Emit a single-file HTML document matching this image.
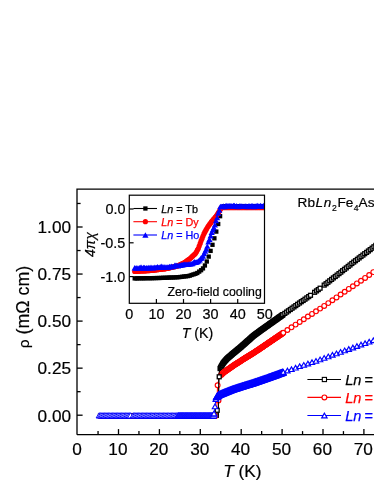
<!DOCTYPE html>
<html lang="en"><head><meta charset="utf-8"><title>RbLn2Fe4As2O2 resistivity</title>
<style>html,body{margin:0;padding:0;background:#fff;}body{width:374px;height:484px;overflow:hidden;}</style>
</head><body>
<svg width="374" height="484" viewBox="0 0 374 484" style="display:block">
<rect x="0" y="0" width="374" height="484" fill="#fff"/>
<defs>
<rect id="os" x="-1.95" y="-1.95" width="3.9" height="3.9" fill="#fff" stroke="#000" stroke-width="1.3"/>
<circle id="oc" r="2.4" fill="#fff" stroke="#f00" stroke-width="1.15"/>
<polygon id="ot" points="0,-2.34 -2.70,2.34 2.70,2.34" fill="#fff" stroke="#00f" stroke-width="1.15"/>
<rect id="fs" x="-2.15" y="-2.15" width="4.3" height="4.3" fill="#000"/>
<circle id="fc" r="2.6" fill="#f00"/>
<polygon id="ft" points="0,-2.68 -3.10,2.68 3.10,2.68" fill="#00f"/>
<rect id="os2" x="-1.7" y="-1.7" width="3.4" height="3.4" fill="#fff" stroke="#000" stroke-width="1.1"/>
<circle id="oc2" r="2.0" fill="#fff" stroke="#f00" stroke-width="1.1"/>
<polygon id="ot2" points="0,-2.5 -3.2,2.8 3.2,2.8" fill="#fff" stroke="#00f" stroke-width="0.95"/>
<polygon id="ot3" points="0,-2.8 -3.2,2.7 3.2,2.7" fill="#fff" stroke="#00f" stroke-width="1.25"/>
<rect id="osl" x="-2.1" y="-2.1" width="4.2" height="4.2" fill="#fff" stroke="#000" stroke-width="1.1"/>
</defs>
<g id="main-data">
<polyline points="98.0,415.2 98.9,415.2 99.7,415.2 100.5,415.2 101.3,415.2 102.1,415.2 103.0,415.2 103.8,415.2 104.6,415.2 105.4,415.2 106.2,415.2 107.0,415.2 107.9,415.2 108.7,415.2 109.5,415.2 110.3,415.2 111.1,415.2 112.0,415.2 112.8,415.2 113.6,415.2 114.4,415.2 115.2,415.2 116.0,415.2 116.9,415.2 117.7,415.2 118.5,415.2 119.3,415.2 120.1,415.2 121.0,415.2 121.8,415.2 122.6,415.2 123.4,415.2 124.2,415.2 125.0,415.2 125.9,415.2 126.7,415.2 127.5,415.2 128.3,415.2 129.1,415.2 130.0,415.2 130.8,415.2 131.6,415.2 132.4,415.2 133.2,415.2 134.0,415.2 134.9,415.2 135.7,415.2 136.5,415.2 137.3,415.2 138.1,415.2 139.0,415.2 139.8,415.2 140.6,415.2 141.4,415.2 142.2,415.2 143.0,415.2 143.9,415.2 144.7,415.2 145.5,415.2 146.3,415.2 147.1,415.2 147.9,415.2 148.8,415.2 149.6,415.2 150.4,415.2 151.2,415.2 152.0,415.2 152.9,415.2 153.7,415.2 154.5,415.2 155.3,415.2 156.1,415.2 156.9,415.2 157.8,415.2 158.6,415.2 159.4,415.2 160.2,415.2 161.0,415.2 161.9,415.2 162.7,415.2 163.5,415.2 164.3,415.2 165.1,415.2 165.9,415.2 166.8,415.2 167.6,415.2 168.4,415.2 169.2,415.2 170.0,415.2 170.9,415.2 171.7,415.2 172.5,415.2 173.3,415.2 174.1,415.2 174.9,415.2 175.8,415.2 176.6,415.2 177.4,415.2 178.2,415.2 179.0,415.2 179.9,415.2 180.7,415.2 181.5,415.2 182.3,415.2 183.1,415.2 183.9,415.2 184.8,415.2 185.6,415.2 186.4,415.2 187.2,415.2 188.0,415.2 188.8,415.2 189.7,415.2 190.5,415.2 191.3,415.2 192.1,415.2 192.9,415.2 193.8,415.2 194.6,415.2 195.4,415.2 196.2,415.2 197.0,415.2 197.8,415.2 198.7,415.2 199.5,415.2 200.3,415.2 201.1,415.2 201.9,415.2 202.8,415.2 203.6,415.2 204.4,415.2 205.2,415.2 206.0,415.2 206.8,415.2 207.7,415.2 208.5,415.2 209.3,415.2 210.1,415.2 210.9,415.2 211.8,415.2 212.6,415.2 213.4,415.2 214.2,415.2 215.0,415.2 215.8,415.2 216.7,415.2 217.5,415.2 218.3,415.2 219.1,373.5 219.9,369.1 220.8,367.2 221.6,365.8 222.4,364.4 223.2,363.1 224.0,362.1 224.8,361.1 225.7,360.2 226.5,359.2 227.3,358.4 228.1,357.7 228.9,357.0 229.7,356.3 230.6,355.6 231.4,354.9 232.2,354.2 233.0,353.5 233.8,352.8 234.7,352.1 235.5,351.4 236.3,350.8 237.1,350.1 237.9,349.4 238.7,348.7 239.6,348.1 240.4,347.4 241.2,346.7 242.0,346.0 242.8,345.2 243.7,344.5 244.5,343.8 245.3,343.1 246.1,342.3 246.9,341.6 247.7,340.9 248.6,340.1 249.4,339.4 250.2,338.7 251.0,338.0 251.8,337.2 252.7,336.5 253.5,335.8 254.3,335.1 255.1,334.5 255.9,333.9 256.7,333.3 257.6,332.7 258.4,332.1 259.2,331.5 260.0,330.9 260.8,330.4 261.7,329.8 262.5,329.2 263.3,328.6 264.1,328.0 264.9,327.4 265.7,326.9 266.6,326.3 267.4,325.7 268.2,325.1 269.0,324.5 269.8,324.0 270.6,323.4 271.5,322.8 272.3,322.2 273.1,321.6 273.9,321.1 274.7,320.5 275.6,319.9 276.4,319.3 277.2,318.7 278.0,318.2 278.8,317.6 279.6,317.0 280.5,316.4 281.3,315.8 282.1,315.3 282.9,314.7 283.7,314.1 284.6,313.5 285.4,313.0 286.2,312.4 287.0,311.8 287.8,311.2 288.6,310.7 289.5,310.1 290.3,309.5 291.1,308.9 291.9,308.4 292.7,307.8 293.6,307.2 294.4,306.6 295.2,306.1 296.0,305.5 296.8,304.9 297.6,304.3 298.5,303.8 299.3,303.2 300.1,302.6 300.9,302.0 301.7,301.5 302.6,300.9 303.4,300.3 304.2,299.7 305.0,299.2 305.8,298.6 306.6,298.0 307.5,297.4 308.3,296.9 309.1,296.3 309.9,295.7 310.7,295.1 311.5,294.5 312.4,293.9 313.2,293.3 314.0,292.7 314.8,292.1 315.6,291.5 316.5,290.9 317.3,290.3 318.1,289.7 318.9,289.1 319.7,288.5 320.5,287.9 321.4,287.3 322.2,286.7 323.0,286.1 323.8,285.5 324.6,284.8 325.5,284.2 326.3,283.5 327.1,282.9 327.9,282.3 328.7,281.6 329.5,281.0 330.4,280.3 331.2,279.7 332.0,279.1 332.8,278.4 333.6,277.8 334.5,277.1 335.3,276.5 336.1,275.9 336.9,275.2 337.7,274.6 338.5,273.9 339.4,273.3 340.2,272.7 341.0,272.0 341.8,271.4 342.6,270.7 343.5,270.1 344.3,269.5 345.1,268.8 345.9,268.2 346.7,267.5 347.5,266.9 348.4,266.3 349.2,265.6 350.0,265.0 350.8,264.3 351.6,263.7 352.4,263.1 353.3,262.4 354.1,261.8 354.9,261.1 355.7,260.5 356.5,259.9 357.4,259.3 358.2,258.7 359.0,258.0 359.8,257.4 360.6,256.8 361.4,256.2 362.3,255.6 363.1,255.0 363.9,254.4 364.7,253.7 365.5,253.1 366.4,252.5 367.2,251.9 368.0,251.3 368.8,250.7 369.6,250.0 370.4,249.4 371.3,248.8 372.1,248.2 372.9,247.6 373.7,247.0 374.5,246.4 375.4,245.7 376.2,245.1 377.0,244.5 377.8,243.9" fill="none" stroke="#000" stroke-width="1" stroke-linejoin="round"/>
<use href="#os2" x="100.1" y="415.7"/>
<use href="#os2" x="101.3" y="415.7"/>
<use href="#os2" x="102.5" y="415.7"/>
<use href="#os2" x="103.8" y="415.7"/>
<use href="#os2" x="105.0" y="415.7"/>
<use href="#os2" x="106.2" y="415.7"/>
<use href="#os2" x="107.5" y="415.7"/>
<use href="#os2" x="108.7" y="415.7"/>
<use href="#os2" x="109.9" y="415.7"/>
<use href="#os2" x="111.1" y="415.7"/>
<use href="#os2" x="112.4" y="415.7"/>
<use href="#os2" x="113.6" y="415.7"/>
<use href="#os2" x="114.8" y="415.7"/>
<use href="#os2" x="116.0" y="415.7"/>
<use href="#os2" x="117.3" y="415.7"/>
<use href="#os2" x="118.5" y="415.7"/>
<use href="#os2" x="119.7" y="415.7"/>
<use href="#os2" x="121.0" y="415.7"/>
<use href="#os2" x="122.2" y="415.7"/>
<use href="#os2" x="123.4" y="415.7"/>
<use href="#os2" x="124.6" y="415.7"/>
<use href="#os2" x="125.9" y="415.7"/>
<use href="#os2" x="127.1" y="415.7"/>
<use href="#os2" x="128.3" y="415.7"/>
<use href="#os2" x="129.5" y="415.7"/>
<use href="#os2" x="130.8" y="415.7"/>
<use href="#os2" x="132.0" y="415.7"/>
<use href="#os2" x="133.2" y="415.7"/>
<use href="#os2" x="134.5" y="415.7"/>
<use href="#os2" x="135.7" y="415.7"/>
<use href="#os2" x="136.9" y="415.7"/>
<use href="#os2" x="138.1" y="415.7"/>
<use href="#os2" x="139.4" y="415.7"/>
<use href="#os2" x="140.6" y="415.7"/>
<use href="#os2" x="141.8" y="415.7"/>
<use href="#os2" x="143.0" y="415.7"/>
<use href="#os2" x="144.3" y="415.7"/>
<use href="#os2" x="145.5" y="415.7"/>
<use href="#os2" x="146.7" y="415.7"/>
<use href="#os2" x="147.9" y="415.7"/>
<use href="#os2" x="149.2" y="415.7"/>
<use href="#os2" x="150.4" y="415.7"/>
<use href="#os2" x="151.6" y="415.7"/>
<use href="#os2" x="152.9" y="415.7"/>
<use href="#os2" x="154.1" y="415.7"/>
<use href="#os2" x="155.3" y="415.7"/>
<use href="#os2" x="156.5" y="415.7"/>
<use href="#os2" x="157.8" y="415.7"/>
<use href="#os2" x="159.0" y="415.7"/>
<use href="#os2" x="160.2" y="415.7"/>
<use href="#os2" x="161.4" y="415.7"/>
<use href="#os2" x="162.7" y="415.7"/>
<use href="#os2" x="163.9" y="415.7"/>
<use href="#os2" x="165.1" y="415.7"/>
<use href="#os2" x="166.4" y="415.7"/>
<use href="#os2" x="167.6" y="415.7"/>
<use href="#os2" x="168.8" y="415.7"/>
<use href="#os2" x="170.0" y="415.7"/>
<use href="#os2" x="171.3" y="415.7"/>
<use href="#os2" x="172.5" y="415.7"/>
<use href="#os2" x="173.7" y="415.7"/>
<use href="#os2" x="174.9" y="415.7"/>
<use href="#os2" x="176.2" y="415.7"/>
<use href="#os2" x="177.4" y="415.7"/>
<use href="#os2" x="178.6" y="415.7"/>
<use href="#os2" x="179.8" y="415.7"/>
<use href="#os2" x="181.1" y="415.7"/>
<use href="#os2" x="182.3" y="415.7"/>
<use href="#os2" x="183.5" y="415.7"/>
<use href="#os2" x="184.8" y="415.7"/>
<use href="#os2" x="186.0" y="415.7"/>
<use href="#os2" x="187.2" y="415.7"/>
<use href="#os2" x="188.4" y="415.7"/>
<use href="#os2" x="189.7" y="415.7"/>
<use href="#os2" x="190.9" y="415.7"/>
<use href="#os2" x="192.1" y="415.7"/>
<use href="#os2" x="193.3" y="415.7"/>
<use href="#os2" x="194.6" y="415.7"/>
<use href="#os2" x="195.8" y="415.7"/>
<use href="#os2" x="197.0" y="415.7"/>
<use href="#os2" x="198.3" y="415.7"/>
<use href="#os2" x="199.5" y="415.7"/>
<use href="#os2" x="200.7" y="415.7"/>
<use href="#os2" x="201.9" y="415.7"/>
<use href="#os2" x="203.2" y="415.7"/>
<use href="#os2" x="204.4" y="415.7"/>
<use href="#os2" x="205.6" y="415.7"/>
<use href="#os2" x="206.8" y="415.7"/>
<use href="#os2" x="208.1" y="415.7"/>
<use href="#os2" x="209.3" y="415.7"/>
<use href="#os2" x="210.5" y="415.7"/>
<use href="#os2" x="211.8" y="415.7"/>
<use href="#os2" x="213.0" y="415.7"/>
<use href="#os2" x="214.2" y="415.7"/>
<use href="#os2" x="215.4" y="415.7"/>
<use href="#os2" x="216.7" y="415.7"/>
<use href="#os" x="220.1" y="368.6"/>
<use href="#os" x="220.5" y="367.7"/>
<use href="#os" x="221.0" y="366.9"/>
<use href="#os" x="221.4" y="366.2"/>
<use href="#os" x="221.8" y="365.5"/>
<use href="#os" x="222.2" y="364.8"/>
<use href="#os" x="222.6" y="364.1"/>
<use href="#os" x="223.0" y="363.4"/>
<use href="#os" x="223.4" y="362.8"/>
<use href="#os" x="223.8" y="362.3"/>
<use href="#os" x="224.2" y="361.9"/>
<use href="#os" x="224.6" y="361.4"/>
<use href="#os" x="225.0" y="360.9"/>
<use href="#os" x="225.5" y="360.4"/>
<use href="#os" x="225.9" y="359.9"/>
<use href="#os" x="226.3" y="359.5"/>
<use href="#os" x="226.7" y="359.0"/>
<use href="#os" x="227.1" y="358.6"/>
<use href="#os" x="227.5" y="358.2"/>
<use href="#os" x="227.9" y="357.9"/>
<use href="#os" x="228.3" y="357.5"/>
<use href="#os" x="228.7" y="357.2"/>
<use href="#os" x="229.1" y="356.8"/>
<use href="#os" x="229.5" y="356.5"/>
<use href="#os" x="230.0" y="356.1"/>
<use href="#os" x="230.4" y="355.8"/>
<use href="#os" x="230.8" y="355.4"/>
<use href="#os" x="231.2" y="355.1"/>
<use href="#os" x="231.6" y="354.7"/>
<use href="#os" x="232.0" y="354.3"/>
<use href="#os" x="232.4" y="354.0"/>
<use href="#os" x="232.8" y="353.6"/>
<use href="#os" x="233.2" y="353.3"/>
<use href="#os" x="233.6" y="353.0"/>
<use href="#os" x="234.0" y="352.6"/>
<use href="#os" x="234.5" y="352.3"/>
<use href="#os" x="234.9" y="351.9"/>
<use href="#os" x="235.3" y="351.6"/>
<use href="#os" x="235.7" y="351.3"/>
<use href="#os" x="236.1" y="350.9"/>
<use href="#os" x="236.5" y="350.6"/>
<use href="#os" x="236.9" y="350.3"/>
<use href="#os" x="237.3" y="349.9"/>
<use href="#os" x="237.7" y="349.6"/>
<use href="#os" x="238.1" y="349.2"/>
<use href="#os" x="238.5" y="348.9"/>
<use href="#os" x="239.0" y="348.6"/>
<use href="#os" x="239.4" y="348.2"/>
<use href="#os" x="239.8" y="347.9"/>
<use href="#os" x="240.2" y="347.5"/>
<use href="#os" x="240.6" y="347.2"/>
<use href="#os" x="241.0" y="346.9"/>
<use href="#os" x="241.4" y="346.5"/>
<use href="#os" x="241.8" y="346.1"/>
<use href="#os" x="242.2" y="345.8"/>
<use href="#os" x="242.6" y="345.4"/>
<use href="#os" x="243.0" y="345.1"/>
<use href="#os" x="243.4" y="344.7"/>
<use href="#os" x="243.9" y="344.3"/>
<use href="#os" x="244.3" y="344.0"/>
<use href="#os" x="244.7" y="343.6"/>
<use href="#os" x="245.1" y="343.2"/>
<use href="#os" x="245.5" y="342.9"/>
<use href="#os" x="245.9" y="342.5"/>
<use href="#os" x="246.3" y="342.1"/>
<use href="#os" x="246.7" y="341.8"/>
<use href="#os" x="247.1" y="341.4"/>
<use href="#os" x="247.5" y="341.0"/>
<use href="#os" x="247.9" y="340.7"/>
<use href="#os" x="248.4" y="340.3"/>
<use href="#os" x="248.8" y="340.0"/>
<use href="#os" x="249.2" y="339.6"/>
<use href="#os" x="249.6" y="339.2"/>
<use href="#os" x="250.0" y="338.9"/>
<use href="#os" x="250.4" y="338.5"/>
<use href="#os" x="250.8" y="338.1"/>
<use href="#os" x="251.2" y="337.8"/>
<use href="#os" x="251.6" y="337.4"/>
<use href="#os" x="252.0" y="337.0"/>
<use href="#os" x="252.4" y="336.7"/>
<use href="#os" x="252.9" y="336.3"/>
<use href="#os" x="253.3" y="335.9"/>
<use href="#os" x="253.7" y="335.6"/>
<use href="#os" x="254.1" y="335.3"/>
<use href="#os" x="254.5" y="335.0"/>
<use href="#os" x="254.9" y="334.7"/>
<use href="#os" x="255.3" y="334.4"/>
<use href="#os" x="255.7" y="334.1"/>
<use href="#os" x="256.1" y="333.8"/>
<use href="#os" x="256.5" y="333.5"/>
<use href="#os" x="256.9" y="333.2"/>
<use href="#os" x="257.4" y="332.9"/>
<use href="#os" x="257.8" y="332.6"/>
<use href="#os" x="258.2" y="332.3"/>
<use href="#os" x="258.6" y="332.0"/>
<use href="#os" x="259.0" y="331.7"/>
<use href="#os" x="259.4" y="331.4"/>
<use href="#os" x="259.8" y="331.1"/>
<use href="#os" x="260.2" y="330.8"/>
<use href="#os" x="260.6" y="330.5"/>
<use href="#os" x="261.0" y="330.2"/>
<use href="#os" x="261.4" y="329.9"/>
<use href="#os" x="261.9" y="329.6"/>
<use href="#os" x="262.3" y="329.3"/>
<use href="#os" x="262.7" y="329.0"/>
<use href="#os" x="263.1" y="328.7"/>
<use href="#os" x="263.5" y="328.5"/>
<use href="#os" x="263.9" y="328.2"/>
<use href="#os" x="264.3" y="327.9"/>
<use href="#os" x="264.7" y="327.6"/>
<use href="#os" x="265.1" y="327.3"/>
<use href="#os" x="265.5" y="327.0"/>
<use href="#os" x="265.9" y="326.7"/>
<use href="#os" x="266.4" y="326.4"/>
<use href="#os" x="266.8" y="326.1"/>
<use href="#os" x="267.2" y="325.8"/>
<use href="#os" x="267.6" y="325.6"/>
<use href="#os" x="268.0" y="325.3"/>
<use href="#os" x="268.4" y="325.0"/>
<use href="#os" x="268.8" y="324.7"/>
<use href="#os" x="269.2" y="324.4"/>
<use href="#os" x="269.6" y="324.1"/>
<use href="#os" x="270.0" y="323.8"/>
<use href="#os" x="270.4" y="323.5"/>
<use href="#os" x="270.9" y="323.2"/>
<use href="#os" x="271.3" y="322.9"/>
<use href="#os" x="271.7" y="322.7"/>
<use href="#os" x="272.1" y="322.4"/>
<use href="#os" x="272.5" y="322.1"/>
<use href="#os" x="272.9" y="321.8"/>
<use href="#os" x="273.3" y="321.5"/>
<use href="#os" x="273.7" y="321.2"/>
<use href="#os" x="274.1" y="320.9"/>
<use href="#os" x="274.5" y="320.6"/>
<use href="#os" x="274.9" y="320.3"/>
<use href="#os" x="275.4" y="320.0"/>
<use href="#os" x="275.8" y="319.8"/>
<use href="#os" x="276.2" y="319.5"/>
<use href="#os" x="276.6" y="319.2"/>
<use href="#os" x="277.0" y="318.9"/>
<use href="#os" x="277.4" y="318.6"/>
<use href="#os" x="277.8" y="318.3"/>
<use href="#os" x="278.2" y="318.0"/>
<use href="#os" x="278.6" y="317.7"/>
<use href="#os" x="279.0" y="317.4"/>
<use href="#os" x="279.4" y="317.1"/>
<use href="#os" x="279.9" y="316.9"/>
<use href="#os" x="280.3" y="316.6"/>
<use href="#os" x="280.7" y="316.3"/>
<use href="#os" x="281.1" y="316.0"/>
<use href="#os" x="281.5" y="315.7"/>
<use href="#os" x="281.9" y="315.4"/>
<use href="#os" x="282.3" y="315.1"/>
<use href="#os" x="282.7" y="314.8"/>
<use href="#os" x="282.9" y="314.7"/>
<use href="#os" x="284.8" y="313.4"/>
<use href="#os" x="286.6" y="312.1"/>
<use href="#os" x="288.4" y="310.8"/>
<use href="#os" x="290.3" y="309.5"/>
<use href="#os" x="292.1" y="308.2"/>
<use href="#os" x="294.0" y="306.9"/>
<use href="#os" x="295.8" y="305.6"/>
<use href="#os" x="297.6" y="304.3"/>
<use href="#os" x="299.5" y="303.0"/>
<use href="#os" x="301.3" y="301.7"/>
<use href="#os" x="303.2" y="300.5"/>
<use href="#os" x="305.0" y="299.2"/>
<use href="#os" x="306.8" y="297.9"/>
<use href="#os" x="308.7" y="296.6"/>
<use href="#os" x="310.5" y="295.3"/>
<use href="#os" x="314.6" y="292.3"/>
<use href="#os" x="316.5" y="290.9"/>
<use href="#os" x="318.3" y="289.6"/>
<use href="#os" x="320.1" y="288.2"/>
<use href="#os" x="324.2" y="285.1"/>
<use href="#os" x="326.1" y="283.7"/>
<use href="#os" x="327.9" y="282.3"/>
<use href="#os" x="329.7" y="280.8"/>
<use href="#os" x="331.6" y="279.4"/>
<use href="#os" x="333.4" y="277.9"/>
<use href="#os" x="335.3" y="276.5"/>
<use href="#os" x="337.1" y="275.1"/>
<use href="#os" x="339.0" y="273.6"/>
<use href="#os" x="340.8" y="272.2"/>
<use href="#os" x="342.6" y="270.7"/>
<use href="#os" x="344.5" y="269.3"/>
<use href="#os" x="346.3" y="267.9"/>
<use href="#os" x="348.2" y="266.4"/>
<use href="#os" x="350.0" y="265.0"/>
<use href="#os" x="351.8" y="263.5"/>
<use href="#os" x="353.7" y="262.1"/>
<use href="#os" x="355.5" y="260.7"/>
<use href="#os" x="357.4" y="259.3"/>
<use href="#os" x="359.2" y="257.9"/>
<use href="#os" x="361.0" y="256.5"/>
<use href="#os" x="362.9" y="255.1"/>
<use href="#os" x="364.7" y="253.7"/>
<use href="#os" x="366.6" y="252.4"/>
<use href="#os" x="368.4" y="251.0"/>
<use href="#os" x="370.2" y="249.6"/>
<use href="#os" x="372.1" y="248.2"/>
<use href="#os" x="373.9" y="246.8"/>
<use href="#os" x="375.8" y="245.4"/>
<use href="#os" x="377.6" y="244.1"/>
<use href="#os" x="379.4" y="242.7"/>
<use href="#os" x="381.3" y="242.1"/>
<polyline points="98.0,415.2 98.9,415.2 99.7,415.2 100.5,415.2 101.3,415.2 102.1,415.2 103.0,415.2 103.8,415.2 104.6,415.2 105.4,415.2 106.2,415.2 107.0,415.2 107.9,415.2 108.7,415.2 109.5,415.2 110.3,415.2 111.1,415.2 112.0,415.2 112.8,415.2 113.6,415.2 114.4,415.2 115.2,415.2 116.0,415.2 116.9,415.2 117.7,415.2 118.5,415.2 119.3,415.2 120.1,415.2 121.0,415.2 121.8,415.2 122.6,415.2 123.4,415.2 124.2,415.2 125.0,415.2 125.9,415.2 126.7,415.2 127.5,415.2 128.3,415.2 129.1,415.2 130.0,415.2 130.8,415.2 131.6,415.2 132.4,415.2 133.2,415.2 134.0,415.2 134.9,415.2 135.7,415.2 136.5,415.2 137.3,415.2 138.1,415.2 139.0,415.2 139.8,415.2 140.6,415.2 141.4,415.2 142.2,415.2 143.0,415.2 143.9,415.2 144.7,415.2 145.5,415.2 146.3,415.2 147.1,415.2 147.9,415.2 148.8,415.2 149.6,415.2 150.4,415.2 151.2,415.2 152.0,415.2 152.9,415.2 153.7,415.2 154.5,415.2 155.3,415.2 156.1,415.2 156.9,415.2 157.8,415.2 158.6,415.2 159.4,415.2 160.2,415.2 161.0,415.2 161.9,415.2 162.7,415.2 163.5,415.2 164.3,415.2 165.1,415.2 165.9,415.2 166.8,415.2 167.6,415.2 168.4,415.2 169.2,415.2 170.0,415.2 170.9,415.2 171.7,415.2 172.5,415.2 173.3,415.2 174.1,415.2 174.9,415.2 175.8,415.2 176.6,415.2 177.4,415.2 178.2,415.2 179.0,415.2 179.9,415.2 180.7,415.2 181.5,415.2 182.3,415.2 183.1,415.2 183.9,415.2 184.8,415.2 185.6,415.2 186.4,415.2 187.2,415.2 188.0,415.2 188.8,415.2 189.7,415.2 190.5,415.2 191.3,415.2 192.1,415.2 192.9,415.2 193.8,415.2 194.6,415.2 195.4,415.2 196.2,415.2 197.0,415.2 197.8,415.2 198.7,415.2 199.5,415.2 200.3,415.2 201.1,415.2 201.9,415.2 202.8,415.2 203.6,415.2 204.4,415.2 205.2,415.2 206.0,415.2 206.8,415.2 207.7,415.2 208.5,415.2 209.3,415.2 210.1,415.2 210.9,415.2 211.8,415.2 212.6,415.2 213.4,415.2 214.2,415.2 215.0,415.2 215.8,415.2 216.7,415.2 217.5,385.1 218.3,381.5 219.1,377.9 219.9,376.7 220.8,375.5 221.6,374.5 222.4,373.7 223.2,372.9 224.0,372.2 224.8,371.6 225.7,371.1 226.5,370.5 227.3,369.9 228.1,369.3 228.9,368.8 229.7,368.2 230.6,367.6 231.4,367.1 232.2,366.5 233.0,365.9 233.8,365.3 234.7,364.8 235.5,364.2 236.3,363.7 237.1,363.2 237.9,362.7 238.7,362.1 239.6,361.6 240.4,361.1 241.2,360.6 242.0,360.1 242.8,359.6 243.7,359.1 244.5,358.5 245.3,358.0 246.1,357.5 246.9,357.0 247.7,356.5 248.6,356.0 249.4,355.5 250.2,354.9 251.0,354.4 251.8,353.9 252.7,353.4 253.5,352.9 254.3,352.4 255.1,351.9 255.9,351.3 256.7,350.8 257.6,350.3 258.4,349.7 259.2,349.2 260.0,348.6 260.8,348.1 261.7,347.5 262.5,346.9 263.3,346.4 264.1,345.8 264.9,345.3 265.7,344.7 266.6,344.2 267.4,343.6 268.2,343.1 269.0,342.5 269.8,341.9 270.6,341.4 271.5,340.8 272.3,340.3 273.1,339.7 273.9,339.2 274.7,338.6 275.6,338.0 276.4,337.5 277.2,336.9 278.0,336.4 278.8,335.8 279.6,335.3 280.5,334.7 281.3,334.2 282.1,333.6 282.9,333.0 283.7,332.5 284.6,332.0 285.4,331.4 286.2,330.9 287.0,330.3 287.8,329.8 288.6,329.2 289.5,328.7 290.3,328.1 291.1,327.6 291.9,327.1 292.7,326.5 293.6,326.0 294.4,325.4 295.2,324.9 296.0,324.3 296.8,323.8 297.6,323.2 298.5,322.7 299.3,322.1 300.1,321.6 300.9,321.1 301.7,320.5 302.6,320.0 303.4,319.4 304.2,318.9 305.0,318.4 305.8,317.9 306.6,317.3 307.5,316.8 308.3,316.3 309.1,315.8 309.9,315.2 310.7,314.7 311.5,314.2 312.4,313.6 313.2,313.1 314.0,312.6 314.8,312.1 315.6,311.5 316.5,311.0 317.3,310.5 318.1,310.0 318.9,309.4 319.7,308.9 320.5,308.4 321.4,307.9 322.2,307.3 323.0,306.8 323.8,306.2 324.6,305.7 325.5,305.1 326.3,304.5 327.1,303.9 327.9,303.4 328.7,302.8 329.5,302.2 330.4,301.6 331.2,301.1 332.0,300.5 332.8,299.9 333.6,299.4 334.5,298.8 335.3,298.2 336.1,297.6 336.9,297.1 337.7,296.5 338.5,295.9 339.4,295.4 340.2,294.8 341.0,294.2 341.8,293.6 342.6,293.1 343.5,292.5 344.3,291.9 345.1,291.4 345.9,290.8 346.7,290.3 347.5,289.7 348.4,289.2 349.2,288.6 350.0,288.1 350.8,287.5 351.6,287.0 352.4,286.4 353.3,285.9 354.1,285.3 354.9,284.8 355.7,284.3 356.5,283.7 357.4,283.2 358.2,282.6 359.0,282.1 359.8,281.5 360.6,281.0 361.4,280.4 362.3,279.9 363.1,279.3 363.9,278.8 364.7,278.2 365.5,277.6 366.4,277.0 367.2,276.4 368.0,275.9 368.8,275.3 369.6,274.7 370.4,274.1 371.3,273.5 372.1,273.0 372.9,272.4 373.7,271.8 374.5,271.2 375.4,270.7 376.2,270.1 377.0,269.5 377.8,269.0" fill="none" stroke="#f00" stroke-width="1" stroke-linejoin="round"/>
<use href="#oc2" x="100.1" y="416.4"/>
<use href="#oc2" x="101.3" y="416.4"/>
<use href="#oc2" x="102.5" y="416.4"/>
<use href="#oc2" x="103.8" y="416.4"/>
<use href="#oc2" x="105.0" y="416.4"/>
<use href="#oc2" x="106.2" y="416.4"/>
<use href="#oc2" x="107.5" y="416.4"/>
<use href="#oc2" x="108.7" y="416.4"/>
<use href="#oc2" x="109.9" y="416.4"/>
<use href="#oc2" x="111.1" y="416.4"/>
<use href="#oc2" x="112.4" y="416.4"/>
<use href="#oc2" x="113.6" y="416.4"/>
<use href="#oc2" x="114.8" y="416.4"/>
<use href="#oc2" x="116.0" y="416.4"/>
<use href="#oc2" x="117.3" y="416.4"/>
<use href="#oc2" x="118.5" y="416.4"/>
<use href="#oc2" x="119.7" y="416.4"/>
<use href="#oc2" x="121.0" y="416.4"/>
<use href="#oc2" x="122.2" y="416.4"/>
<use href="#oc2" x="123.4" y="416.4"/>
<use href="#oc2" x="124.6" y="416.4"/>
<use href="#oc2" x="125.9" y="416.4"/>
<use href="#oc2" x="127.1" y="416.4"/>
<use href="#oc2" x="128.3" y="416.4"/>
<use href="#oc2" x="129.5" y="416.4"/>
<use href="#oc2" x="130.8" y="416.4"/>
<use href="#oc2" x="132.0" y="416.4"/>
<use href="#oc2" x="133.2" y="416.4"/>
<use href="#oc2" x="134.5" y="416.4"/>
<use href="#oc2" x="135.7" y="416.4"/>
<use href="#oc2" x="136.9" y="416.4"/>
<use href="#oc2" x="138.1" y="416.4"/>
<use href="#oc2" x="139.4" y="416.4"/>
<use href="#oc2" x="140.6" y="416.4"/>
<use href="#oc2" x="141.8" y="416.4"/>
<use href="#oc2" x="143.0" y="416.4"/>
<use href="#oc2" x="144.3" y="416.4"/>
<use href="#oc2" x="145.5" y="416.4"/>
<use href="#oc2" x="146.7" y="416.4"/>
<use href="#oc2" x="147.9" y="416.4"/>
<use href="#oc2" x="149.2" y="416.4"/>
<use href="#oc2" x="150.4" y="416.4"/>
<use href="#oc2" x="151.6" y="416.4"/>
<use href="#oc2" x="152.9" y="416.4"/>
<use href="#oc2" x="154.1" y="416.4"/>
<use href="#oc2" x="155.3" y="416.4"/>
<use href="#oc2" x="156.5" y="416.4"/>
<use href="#oc2" x="157.8" y="416.4"/>
<use href="#oc2" x="159.0" y="416.4"/>
<use href="#oc2" x="160.2" y="416.4"/>
<use href="#oc2" x="161.4" y="416.4"/>
<use href="#oc2" x="162.7" y="416.4"/>
<use href="#oc2" x="163.9" y="416.4"/>
<use href="#oc2" x="165.1" y="416.4"/>
<use href="#oc2" x="166.4" y="416.4"/>
<use href="#oc2" x="167.6" y="416.4"/>
<use href="#oc2" x="168.8" y="416.4"/>
<use href="#oc2" x="170.0" y="416.4"/>
<use href="#oc2" x="171.3" y="416.4"/>
<use href="#oc2" x="172.5" y="416.4"/>
<use href="#oc2" x="173.7" y="416.4"/>
<use href="#oc2" x="174.9" y="416.4"/>
<use href="#oc2" x="176.2" y="416.4"/>
<use href="#oc2" x="177.4" y="416.4"/>
<use href="#oc2" x="178.6" y="416.4"/>
<use href="#oc2" x="179.8" y="416.4"/>
<use href="#oc2" x="181.1" y="416.4"/>
<use href="#oc2" x="182.3" y="416.4"/>
<use href="#oc2" x="183.5" y="416.4"/>
<use href="#oc2" x="184.8" y="416.4"/>
<use href="#oc2" x="186.0" y="416.4"/>
<use href="#oc2" x="187.2" y="416.4"/>
<use href="#oc2" x="188.4" y="416.4"/>
<use href="#oc2" x="189.7" y="416.4"/>
<use href="#oc2" x="190.9" y="416.4"/>
<use href="#oc2" x="192.1" y="416.4"/>
<use href="#oc2" x="193.3" y="416.4"/>
<use href="#oc2" x="194.6" y="416.4"/>
<use href="#oc2" x="195.8" y="416.4"/>
<use href="#oc2" x="197.0" y="416.4"/>
<use href="#oc2" x="198.3" y="416.4"/>
<use href="#oc2" x="199.5" y="416.4"/>
<use href="#oc2" x="200.7" y="416.4"/>
<use href="#oc2" x="201.9" y="416.4"/>
<use href="#oc2" x="203.2" y="416.4"/>
<use href="#oc2" x="204.4" y="416.4"/>
<use href="#oc2" x="205.6" y="416.4"/>
<use href="#oc2" x="206.8" y="416.4"/>
<use href="#oc2" x="208.1" y="416.4"/>
<use href="#oc2" x="209.3" y="416.4"/>
<use href="#oc2" x="210.5" y="416.4"/>
<use href="#oc2" x="211.8" y="416.4"/>
<use href="#oc2" x="213.0" y="416.4"/>
<use href="#oc2" x="214.2" y="416.4"/>
<use href="#oc2" x="215.4" y="416.4"/>
<use href="#oc" x="221.2" y="374.9"/>
<use href="#oc" x="221.6" y="374.5"/>
<use href="#oc" x="222.0" y="374.1"/>
<use href="#oc" x="222.4" y="373.7"/>
<use href="#oc" x="222.8" y="373.3"/>
<use href="#oc" x="223.2" y="372.9"/>
<use href="#oc" x="223.6" y="372.5"/>
<use href="#oc" x="224.0" y="372.2"/>
<use href="#oc" x="224.4" y="371.9"/>
<use href="#oc" x="224.8" y="371.6"/>
<use href="#oc" x="225.2" y="371.3"/>
<use href="#oc" x="225.7" y="371.1"/>
<use href="#oc" x="226.1" y="370.8"/>
<use href="#oc" x="226.5" y="370.5"/>
<use href="#oc" x="226.9" y="370.2"/>
<use href="#oc" x="227.3" y="369.9"/>
<use href="#oc" x="227.7" y="369.6"/>
<use href="#oc" x="228.1" y="369.3"/>
<use href="#oc" x="228.5" y="369.1"/>
<use href="#oc" x="228.9" y="368.8"/>
<use href="#oc" x="229.3" y="368.5"/>
<use href="#oc" x="229.7" y="368.2"/>
<use href="#oc" x="230.2" y="367.9"/>
<use href="#oc" x="230.6" y="367.6"/>
<use href="#oc" x="231.0" y="367.3"/>
<use href="#oc" x="231.4" y="367.1"/>
<use href="#oc" x="231.8" y="366.8"/>
<use href="#oc" x="232.2" y="366.5"/>
<use href="#oc" x="232.6" y="366.2"/>
<use href="#oc" x="233.0" y="365.9"/>
<use href="#oc" x="233.4" y="365.6"/>
<use href="#oc" x="233.8" y="365.3"/>
<use href="#oc" x="234.2" y="365.1"/>
<use href="#oc" x="234.7" y="364.8"/>
<use href="#oc" x="235.1" y="364.5"/>
<use href="#oc" x="235.5" y="364.2"/>
<use href="#oc" x="235.9" y="363.9"/>
<use href="#oc" x="236.3" y="363.7"/>
<use href="#oc" x="236.7" y="363.4"/>
<use href="#oc" x="237.1" y="363.2"/>
<use href="#oc" x="237.5" y="362.9"/>
<use href="#oc" x="237.9" y="362.7"/>
<use href="#oc" x="238.3" y="362.4"/>
<use href="#oc" x="238.7" y="362.1"/>
<use href="#oc" x="239.2" y="361.9"/>
<use href="#oc" x="239.6" y="361.6"/>
<use href="#oc" x="240.0" y="361.4"/>
<use href="#oc" x="240.4" y="361.1"/>
<use href="#oc" x="240.8" y="360.9"/>
<use href="#oc" x="241.2" y="360.6"/>
<use href="#oc" x="241.6" y="360.3"/>
<use href="#oc" x="242.0" y="360.1"/>
<use href="#oc" x="242.4" y="359.8"/>
<use href="#oc" x="242.8" y="359.6"/>
<use href="#oc" x="243.2" y="359.3"/>
<use href="#oc" x="243.7" y="359.1"/>
<use href="#oc" x="244.1" y="358.8"/>
<use href="#oc" x="244.5" y="358.5"/>
<use href="#oc" x="244.9" y="358.3"/>
<use href="#oc" x="245.3" y="358.0"/>
<use href="#oc" x="245.7" y="357.8"/>
<use href="#oc" x="246.1" y="357.5"/>
<use href="#oc" x="246.5" y="357.3"/>
<use href="#oc" x="246.9" y="357.0"/>
<use href="#oc" x="247.3" y="356.7"/>
<use href="#oc" x="247.7" y="356.5"/>
<use href="#oc" x="248.2" y="356.2"/>
<use href="#oc" x="248.6" y="356.0"/>
<use href="#oc" x="249.0" y="355.7"/>
<use href="#oc" x="249.4" y="355.5"/>
<use href="#oc" x="249.8" y="355.2"/>
<use href="#oc" x="250.2" y="354.9"/>
<use href="#oc" x="250.6" y="354.7"/>
<use href="#oc" x="251.0" y="354.4"/>
<use href="#oc" x="251.4" y="354.2"/>
<use href="#oc" x="251.8" y="353.9"/>
<use href="#oc" x="252.2" y="353.7"/>
<use href="#oc" x="252.7" y="353.4"/>
<use href="#oc" x="253.1" y="353.1"/>
<use href="#oc" x="253.5" y="352.9"/>
<use href="#oc" x="253.9" y="352.6"/>
<use href="#oc" x="254.3" y="352.4"/>
<use href="#oc" x="254.7" y="352.1"/>
<use href="#oc" x="255.1" y="351.9"/>
<use href="#oc" x="255.5" y="351.6"/>
<use href="#oc" x="255.9" y="351.3"/>
<use href="#oc" x="256.3" y="351.1"/>
<use href="#oc" x="256.7" y="350.8"/>
<use href="#oc" x="257.2" y="350.6"/>
<use href="#oc" x="257.6" y="350.3"/>
<use href="#oc" x="258.0" y="350.0"/>
<use href="#oc" x="258.4" y="349.7"/>
<use href="#oc" x="258.8" y="349.4"/>
<use href="#oc" x="259.2" y="349.2"/>
<use href="#oc" x="259.6" y="348.9"/>
<use href="#oc" x="260.0" y="348.6"/>
<use href="#oc" x="260.4" y="348.3"/>
<use href="#oc" x="260.8" y="348.1"/>
<use href="#oc" x="261.2" y="347.8"/>
<use href="#oc" x="261.7" y="347.5"/>
<use href="#oc" x="262.1" y="347.2"/>
<use href="#oc" x="262.5" y="346.9"/>
<use href="#oc" x="262.9" y="346.7"/>
<use href="#oc" x="263.3" y="346.4"/>
<use href="#oc" x="263.7" y="346.1"/>
<use href="#oc" x="264.1" y="345.8"/>
<use href="#oc" x="264.5" y="345.6"/>
<use href="#oc" x="264.9" y="345.3"/>
<use href="#oc" x="265.3" y="345.0"/>
<use href="#oc" x="265.7" y="344.7"/>
<use href="#oc" x="266.1" y="344.4"/>
<use href="#oc" x="266.6" y="344.2"/>
<use href="#oc" x="267.0" y="343.9"/>
<use href="#oc" x="267.4" y="343.6"/>
<use href="#oc" x="267.8" y="343.3"/>
<use href="#oc" x="268.2" y="343.1"/>
<use href="#oc" x="268.6" y="342.8"/>
<use href="#oc" x="269.0" y="342.5"/>
<use href="#oc" x="269.4" y="342.2"/>
<use href="#oc" x="269.8" y="341.9"/>
<use href="#oc" x="270.2" y="341.7"/>
<use href="#oc" x="270.6" y="341.4"/>
<use href="#oc" x="271.1" y="341.1"/>
<use href="#oc" x="271.5" y="340.8"/>
<use href="#oc" x="271.9" y="340.6"/>
<use href="#oc" x="272.3" y="340.3"/>
<use href="#oc" x="272.7" y="340.0"/>
<use href="#oc" x="273.1" y="339.7"/>
<use href="#oc" x="273.5" y="339.4"/>
<use href="#oc" x="273.9" y="339.2"/>
<use href="#oc" x="274.3" y="338.9"/>
<use href="#oc" x="274.7" y="338.6"/>
<use href="#oc" x="275.1" y="338.3"/>
<use href="#oc" x="275.6" y="338.0"/>
<use href="#oc" x="276.0" y="337.8"/>
<use href="#oc" x="276.4" y="337.5"/>
<use href="#oc" x="276.8" y="337.2"/>
<use href="#oc" x="277.2" y="336.9"/>
<use href="#oc" x="277.6" y="336.7"/>
<use href="#oc" x="278.0" y="336.4"/>
<use href="#oc" x="278.4" y="336.1"/>
<use href="#oc" x="278.8" y="335.8"/>
<use href="#oc" x="279.2" y="335.5"/>
<use href="#oc" x="279.6" y="335.3"/>
<use href="#oc" x="280.1" y="335.0"/>
<use href="#oc" x="280.5" y="334.7"/>
<use href="#oc" x="280.9" y="334.4"/>
<use href="#oc" x="281.3" y="334.2"/>
<use href="#oc" x="281.7" y="333.9"/>
<use href="#oc" x="282.1" y="333.6"/>
<use href="#oc" x="282.5" y="333.3"/>
<use href="#oc" x="282.9" y="333.0"/>
<use href="#oc" x="283.3" y="332.8"/>
<use href="#oc" x="287.4" y="330.0"/>
<use href="#oc" x="291.5" y="327.3"/>
<use href="#oc" x="295.6" y="324.6"/>
<use href="#oc" x="299.7" y="321.9"/>
<use href="#oc" x="303.8" y="319.2"/>
<use href="#oc" x="307.9" y="316.5"/>
<use href="#oc" x="312.0" y="313.9"/>
<use href="#oc" x="316.0" y="311.3"/>
<use href="#oc" x="320.1" y="308.6"/>
<use href="#oc" x="324.2" y="305.9"/>
<use href="#oc" x="328.3" y="303.1"/>
<use href="#oc" x="332.4" y="300.2"/>
<use href="#oc" x="336.5" y="297.4"/>
<use href="#oc" x="340.6" y="294.5"/>
<use href="#oc" x="344.7" y="291.7"/>
<use href="#oc" x="348.8" y="288.9"/>
<use href="#oc" x="352.9" y="286.2"/>
<use href="#oc" x="356.9" y="283.4"/>
<use href="#oc" x="361.0" y="280.7"/>
<use href="#oc" x="365.1" y="277.9"/>
<use href="#oc" x="369.2" y="275.0"/>
<use href="#oc" x="373.3" y="272.1"/>
<use href="#oc" x="377.4" y="269.3"/>
<use href="#oc" x="381.5" y="267.3"/>
<use href="#oc" x="217.6" y="385.2"/>
<use href="#oc" x="218.5" y="400.4"/>
<polyline points="217.9,415.2 218.0,415.2 218.1,415.2 218.1,415.2 218.2,415.2 218.3,415.2 218.4,413.7 218.5,412.2 218.5,404.3 218.6,390.0 218.7,375.7 218.8,375.2 218.9,374.8 219.0,374.4 219.0,373.9 219.1,373.5 219.2,373.0 219.3,372.6 219.4,372.2 219.4,371.7 219.5,371.3 219.6,370.8 219.7,370.4 219.8,370.0 219.9,369.5 219.9,369.1 220.0,368.9 220.1,368.7 220.2,368.5 220.3,368.3 220.3,368.1 220.4,368.0 220.5,367.8 220.6,367.6 220.7,367.4 220.8,367.2" fill="none" stroke="#000" stroke-width="1" stroke-linejoin="round"/>
<use href="#os" x="219.2" y="376.8"/>
<use href="#os" x="217.2" y="410.3"/>
<polyline points="99.3,415.2 100.1,415.2 100.9,415.2 101.7,415.2 102.5,415.2 103.4,415.2 104.2,415.2 105.0,415.2 105.8,415.2 106.6,415.2 107.5,415.2 108.3,415.2 109.1,415.2 109.9,415.2 110.7,415.2 111.5,415.2 112.4,415.2 113.2,415.2 114.0,415.2 114.8,415.2 115.6,415.2 116.5,415.2 117.3,415.2 118.1,415.2 118.9,415.2 119.7,415.2 120.5,415.2 121.4,415.2 122.2,415.2 123.0,415.2 123.8,415.2 124.6,415.2 125.5,415.2 126.3,415.2 127.1,415.2 127.9,415.2 128.7,415.2 129.5,415.2 130.4,415.2 131.2,415.2 132.0,415.2 132.8,415.2 133.6,415.2 134.5,415.2 135.3,415.2 136.1,415.2 136.9,415.2 137.7,415.2 138.5,415.2 139.4,415.2 140.2,415.2 141.0,415.2 141.8,415.2 142.6,415.2 143.4,415.2 144.3,415.2 145.1,415.2 145.9,415.2 146.7,415.2 147.5,415.2 148.4,415.2 149.2,415.2 150.0,415.2 150.8,415.2 151.6,415.2 152.4,415.2 153.3,415.2 154.1,415.2 154.9,415.2 155.7,415.2 156.5,415.2 157.4,415.2 158.2,415.2 159.0,415.2 159.8,415.2 160.6,415.2 161.4,415.2 162.3,415.2 163.1,415.2 163.9,415.2 164.7,415.2 165.5,415.2 166.4,415.2 167.2,415.2 168.0,415.2 168.8,415.2 169.6,415.2 170.4,415.2 171.3,415.2 172.1,415.2 172.9,415.2 173.7,415.2 174.5,415.2 175.4,415.2 176.2,415.2 177.0,415.2 177.8,415.2 178.6,415.2 179.4,415.2 180.3,415.2 181.1,415.2 181.9,415.2 182.7,415.2 183.5,415.2 184.3,415.2 185.2,415.2 186.0,415.2 186.8,415.2 187.6,415.2 188.4,415.2 189.3,415.2 190.1,415.2 190.9,415.2 191.7,415.2 192.5,415.2 193.3,415.2 194.2,415.2 195.0,415.2 195.8,415.2 196.6,415.2 197.4,415.2 198.3,415.2 199.1,415.2 199.9,415.2 200.7,415.2 201.5,415.2 202.3,415.2 203.2,415.2 204.0,415.2 204.8,415.2 205.6,415.2 206.4,415.2 207.3,415.2 208.1,415.2 208.9,415.2 209.7,415.2 210.5,415.2 211.3,415.2 212.2,415.2 213.0,415.2 213.8,415.2 214.6,411.0 215.4,403.1 216.3,398.3 217.1,396.4 217.9,395.6 218.7,394.9 219.5,394.5 220.3,394.1 221.2,393.8 222.0,393.4 222.8,393.1 223.6,392.8 224.4,392.4 225.2,392.1 226.1,391.8 226.9,391.5 227.7,391.1 228.5,390.8 229.3,390.5 230.2,390.1 231.0,389.8 231.8,389.5 232.6,389.2 233.4,389.0 234.2,388.7 235.1,388.4 235.9,388.2 236.7,387.9 237.5,387.6 238.3,387.4 239.2,387.1 240.0,386.9 240.8,386.6 241.6,386.3 242.4,386.1 243.2,385.8 244.1,385.5 244.9,385.3 245.7,385.0 246.5,384.8 247.3,384.5 248.2,384.3 249.0,384.1 249.8,383.8 250.6,383.6 251.4,383.3 252.2,383.1 253.1,382.8 253.9,382.5 254.7,382.2 255.5,381.9 256.3,381.7 257.2,381.4 258.0,381.1 258.8,380.8 259.6,380.5 260.4,380.3 261.2,380.0 262.1,379.7 262.9,379.4 263.7,379.2 264.5,378.9 265.3,378.6 266.1,378.3 267.0,378.0 267.8,377.7 268.6,377.4 269.4,377.1 270.2,376.8 271.1,376.5 271.9,376.2 272.7,375.9 273.5,375.7 274.3,375.4 275.1,375.1 276.0,374.8 276.8,374.5 277.6,374.2 278.4,373.9 279.2,373.6 280.1,373.3 280.9,373.0 281.7,372.7 282.5,372.4 283.3,372.1 284.1,371.8 285.0,371.5 285.8,371.2 286.6,370.9 287.4,370.6 288.2,370.3 289.1,370.0 289.9,369.7 290.7,369.4 291.5,369.2 292.3,368.9 293.1,368.6 294.0,368.3 294.8,368.0 295.6,367.7 296.4,367.4 297.2,367.1 298.1,366.8 298.9,366.5 299.7,366.2 300.5,366.0 301.3,365.7 302.1,365.4 303.0,365.2 303.8,364.9 304.6,364.6 305.4,364.4 306.2,364.1 307.0,363.8 307.9,363.6 308.7,363.3 309.5,363.0 310.3,362.8 311.1,362.5 312.0,362.2 312.8,362.0 313.6,361.7 314.4,361.4 315.2,361.2 316.0,360.9 316.9,360.6 317.7,360.4 318.5,360.0 319.3,359.7 320.1,359.4 321.0,359.1 321.8,358.8 322.6,358.5 323.4,358.2 324.2,357.9 325.0,357.6 325.9,357.3 326.7,357.0 327.5,356.7 328.3,356.4 329.1,356.1 330.0,355.8 330.8,355.4 331.6,355.1 332.4,354.8 333.2,354.5 334.0,354.2 334.9,353.9 335.7,353.6 336.5,353.4 337.3,353.1 338.1,352.8 339.0,352.5 339.8,352.2 340.6,351.9 341.4,351.6 342.2,351.3 343.0,351.0 343.9,350.7 344.7,350.4 345.5,350.2 346.3,349.9 347.1,349.6 347.9,349.3 348.8,349.0 349.6,348.7 350.4,348.4 351.2,348.1 352.0,347.8 352.9,347.5 353.7,347.2 354.5,347.0 355.3,346.7 356.1,346.4 356.9,346.1 357.8,345.8 358.6,345.5 359.4,345.2 360.2,344.9 361.0,344.6 361.9,344.3 362.7,344.0 363.5,343.8 364.3,343.5 365.1,343.2 365.9,342.9 366.8,342.6 367.6,342.3 368.4,342.0 369.2,341.7 370.0,341.4 370.9,341.1 371.7,340.9 372.5,340.6 373.3,340.3 374.1,340.0 374.9,339.7 375.8,339.4 376.6,339.1 377.4,338.9 378.2,338.6" fill="none" stroke="#00f" stroke-width="1" stroke-linejoin="round"/>
<use href="#ot2" x="99.3" y="415.2"/>
<use href="#ot2" x="100.6" y="415.2"/>
<use href="#ot2" x="101.9" y="415.2"/>
<use href="#ot2" x="103.2" y="415.2"/>
<use href="#ot2" x="104.5" y="415.2"/>
<use href="#ot2" x="105.8" y="415.2"/>
<use href="#ot2" x="107.1" y="415.2"/>
<use href="#ot2" x="108.4" y="415.2"/>
<use href="#ot2" x="109.7" y="415.2"/>
<use href="#ot2" x="111.1" y="415.2"/>
<use href="#ot2" x="112.4" y="415.2"/>
<use href="#ot2" x="113.7" y="415.2"/>
<use href="#ot2" x="115.0" y="415.2"/>
<use href="#ot2" x="116.3" y="415.2"/>
<use href="#ot2" x="117.6" y="415.2"/>
<use href="#ot2" x="118.9" y="415.2"/>
<use href="#ot2" x="120.2" y="415.2"/>
<use href="#ot2" x="121.5" y="415.2"/>
<use href="#ot2" x="122.8" y="415.2"/>
<use href="#ot2" x="124.1" y="415.2"/>
<use href="#ot2" x="125.5" y="415.2"/>
<use href="#ot2" x="126.8" y="415.2"/>
<use href="#ot2" x="128.1" y="415.2"/>
<use href="#ot2" x="129.4" y="415.2"/>
<use href="#ot2" x="130.7" y="415.2"/>
<use href="#ot2" x="133.3" y="415.2"/>
<use href="#ot2" x="134.6" y="415.2"/>
<use href="#ot2" x="135.9" y="415.2"/>
<use href="#ot2" x="137.2" y="415.2"/>
<use href="#ot2" x="138.5" y="415.2"/>
<use href="#ot2" x="139.8" y="415.2"/>
<use href="#ot2" x="141.2" y="415.2"/>
<use href="#ot2" x="142.5" y="415.2"/>
<use href="#ot2" x="143.8" y="415.2"/>
<use href="#ot2" x="145.1" y="415.2"/>
<use href="#ot2" x="146.4" y="415.2"/>
<use href="#ot2" x="147.7" y="415.2"/>
<use href="#ot2" x="149.0" y="415.2"/>
<use href="#ot2" x="150.3" y="415.2"/>
<use href="#ot2" x="151.6" y="415.2"/>
<use href="#ot2" x="152.9" y="415.2"/>
<use href="#ot2" x="154.2" y="415.2"/>
<use href="#ot2" x="155.6" y="415.2"/>
<use href="#ot2" x="156.9" y="415.2"/>
<use href="#ot2" x="158.2" y="415.2"/>
<use href="#ot2" x="159.5" y="415.2"/>
<use href="#ot2" x="160.8" y="415.2"/>
<use href="#ot2" x="162.1" y="415.2"/>
<use href="#ot2" x="163.4" y="415.2"/>
<use href="#ot2" x="164.7" y="415.2"/>
<use href="#ot2" x="166.0" y="415.2"/>
<use href="#ot2" x="167.3" y="415.2"/>
<use href="#ot2" x="168.6" y="415.2"/>
<use href="#ot2" x="170.0" y="415.2"/>
<use href="#ot2" x="171.3" y="415.2"/>
<use href="#ot2" x="172.6" y="415.2"/>
<use href="#ot2" x="173.9" y="415.2"/>
<use href="#ot2" x="175.2" y="415.2"/>
<use href="#ot2" x="176.5" y="415.2"/>
<use href="#ot2" x="177.8" y="415.2"/>
<use href="#ot2" x="178.2" y="415.2"/>
<use href="#ot2" x="178.6" y="415.2"/>
<use href="#ot2" x="179.0" y="415.2"/>
<use href="#ot2" x="179.4" y="415.2"/>
<use href="#ot2" x="179.9" y="415.2"/>
<use href="#ot2" x="180.3" y="415.2"/>
<use href="#ot2" x="180.7" y="415.2"/>
<use href="#ot2" x="181.1" y="415.2"/>
<use href="#ot2" x="181.5" y="415.2"/>
<use href="#ot2" x="181.9" y="415.2"/>
<use href="#ot2" x="182.3" y="415.2"/>
<use href="#ot2" x="182.7" y="415.2"/>
<use href="#ot2" x="183.1" y="415.2"/>
<use href="#ot2" x="183.5" y="415.2"/>
<use href="#ot2" x="183.9" y="415.2"/>
<use href="#ot2" x="184.3" y="415.2"/>
<use href="#ot2" x="184.8" y="415.2"/>
<use href="#ot2" x="185.2" y="415.2"/>
<use href="#ot2" x="185.6" y="415.2"/>
<use href="#ot2" x="186.0" y="415.2"/>
<use href="#ot2" x="186.4" y="415.2"/>
<use href="#ot2" x="186.8" y="415.2"/>
<use href="#ot2" x="187.2" y="415.2"/>
<use href="#ot2" x="187.6" y="415.2"/>
<use href="#ot2" x="188.0" y="415.2"/>
<use href="#ot2" x="188.4" y="415.2"/>
<use href="#ot2" x="188.8" y="415.2"/>
<use href="#ot2" x="189.3" y="415.2"/>
<use href="#ot2" x="189.7" y="415.2"/>
<use href="#ot2" x="190.1" y="415.2"/>
<use href="#ot2" x="190.5" y="415.2"/>
<use href="#ot2" x="190.9" y="415.2"/>
<use href="#ot2" x="191.3" y="415.2"/>
<use href="#ot2" x="191.7" y="415.2"/>
<use href="#ot2" x="192.1" y="415.2"/>
<use href="#ot2" x="192.5" y="415.2"/>
<use href="#ot2" x="192.9" y="415.2"/>
<use href="#ot2" x="193.3" y="415.2"/>
<use href="#ot2" x="193.8" y="415.2"/>
<use href="#ot2" x="194.2" y="415.2"/>
<use href="#ot2" x="194.6" y="415.2"/>
<use href="#ot2" x="195.0" y="415.2"/>
<use href="#ot2" x="195.4" y="415.2"/>
<use href="#ot2" x="195.8" y="415.2"/>
<use href="#ot2" x="196.2" y="415.2"/>
<use href="#ot2" x="196.6" y="415.2"/>
<use href="#ot2" x="197.0" y="415.2"/>
<use href="#ot2" x="197.4" y="415.2"/>
<use href="#ot2" x="197.8" y="415.2"/>
<use href="#ot2" x="198.3" y="415.2"/>
<use href="#ot2" x="198.7" y="415.2"/>
<use href="#ot2" x="199.1" y="415.2"/>
<use href="#ot2" x="199.5" y="415.2"/>
<use href="#ot2" x="199.9" y="415.2"/>
<use href="#ot2" x="200.3" y="415.2"/>
<use href="#ot2" x="200.7" y="415.2"/>
<use href="#ot2" x="201.1" y="415.2"/>
<use href="#ot2" x="201.5" y="415.2"/>
<use href="#ot2" x="201.9" y="415.2"/>
<use href="#ot2" x="202.3" y="415.2"/>
<use href="#ot2" x="202.8" y="415.2"/>
<use href="#ot2" x="203.2" y="415.2"/>
<use href="#ot2" x="203.6" y="415.2"/>
<use href="#ot2" x="204.0" y="415.2"/>
<use href="#ot2" x="204.4" y="415.2"/>
<use href="#ot2" x="204.8" y="415.2"/>
<use href="#ot2" x="205.2" y="415.2"/>
<use href="#ot2" x="205.6" y="415.2"/>
<use href="#ot2" x="206.0" y="415.2"/>
<use href="#ot2" x="206.4" y="415.2"/>
<use href="#ot2" x="206.8" y="415.2"/>
<use href="#ot2" x="207.3" y="415.2"/>
<use href="#ot2" x="207.7" y="415.2"/>
<use href="#ot2" x="208.1" y="415.2"/>
<use href="#ot2" x="208.5" y="415.2"/>
<use href="#ot2" x="208.9" y="415.2"/>
<use href="#ot2" x="209.3" y="415.2"/>
<use href="#ot2" x="209.7" y="415.2"/>
<use href="#ot2" x="210.1" y="415.2"/>
<use href="#ot2" x="210.5" y="415.2"/>
<use href="#ot2" x="210.9" y="415.2"/>
<use href="#ot2" x="211.3" y="415.2"/>
<use href="#ot2" x="211.8" y="415.2"/>
<use href="#ot2" x="212.2" y="415.2"/>
<use href="#ot2" x="212.6" y="415.2"/>
<use href="#ot2" x="213.0" y="415.2"/>
<use href="#ot2" x="213.4" y="415.2"/>
<use href="#ot2" x="213.8" y="415.2"/>
<use href="#ot2" x="214.2" y="413.9"/>
<use href="#ot" x="215.8" y="399.0"/>
<use href="#ot3" x="216.7" y="396.8"/>
<use href="#ot3" x="217.1" y="396.4"/>
<use href="#ot3" x="217.5" y="396.0"/>
<use href="#ot3" x="217.9" y="395.6"/>
<use href="#ot3" x="218.3" y="395.3"/>
<use href="#ot3" x="218.7" y="394.9"/>
<use href="#ot3" x="219.1" y="394.7"/>
<use href="#ot3" x="219.5" y="394.5"/>
<use href="#ot3" x="219.9" y="394.3"/>
<use href="#ot3" x="220.3" y="394.1"/>
<use href="#ot3" x="220.8" y="393.9"/>
<use href="#ot3" x="221.2" y="393.8"/>
<use href="#ot3" x="221.6" y="393.6"/>
<use href="#ot3" x="222.0" y="393.4"/>
<use href="#ot3" x="222.4" y="393.3"/>
<use href="#ot3" x="222.8" y="393.1"/>
<use href="#ot3" x="223.2" y="392.9"/>
<use href="#ot3" x="223.6" y="392.8"/>
<use href="#ot3" x="224.0" y="392.6"/>
<use href="#ot3" x="224.4" y="392.4"/>
<use href="#ot3" x="224.8" y="392.3"/>
<use href="#ot3" x="225.2" y="392.1"/>
<use href="#ot3" x="225.7" y="391.9"/>
<use href="#ot3" x="226.1" y="391.8"/>
<use href="#ot3" x="226.5" y="391.6"/>
<use href="#ot3" x="226.9" y="391.5"/>
<use href="#ot3" x="227.3" y="391.3"/>
<use href="#ot3" x="227.7" y="391.1"/>
<use href="#ot3" x="228.1" y="391.0"/>
<use href="#ot3" x="228.5" y="390.8"/>
<use href="#ot3" x="228.9" y="390.6"/>
<use href="#ot3" x="229.3" y="390.5"/>
<use href="#ot3" x="229.7" y="390.3"/>
<use href="#ot3" x="230.2" y="390.1"/>
<use href="#ot3" x="230.6" y="390.0"/>
<use href="#ot3" x="231.0" y="389.8"/>
<use href="#ot3" x="231.4" y="389.7"/>
<use href="#ot3" x="231.8" y="389.5"/>
<use href="#ot3" x="232.2" y="389.4"/>
<use href="#ot3" x="232.6" y="389.2"/>
<use href="#ot3" x="233.0" y="389.1"/>
<use href="#ot3" x="233.4" y="389.0"/>
<use href="#ot3" x="233.8" y="388.8"/>
<use href="#ot3" x="234.2" y="388.7"/>
<use href="#ot3" x="234.7" y="388.6"/>
<use href="#ot3" x="235.1" y="388.4"/>
<use href="#ot3" x="235.5" y="388.3"/>
<use href="#ot3" x="235.9" y="388.2"/>
<use href="#ot3" x="236.3" y="388.0"/>
<use href="#ot3" x="236.7" y="387.9"/>
<use href="#ot3" x="237.1" y="387.8"/>
<use href="#ot3" x="237.5" y="387.6"/>
<use href="#ot3" x="237.9" y="387.5"/>
<use href="#ot3" x="238.3" y="387.4"/>
<use href="#ot3" x="238.7" y="387.2"/>
<use href="#ot3" x="239.2" y="387.1"/>
<use href="#ot3" x="239.6" y="387.0"/>
<use href="#ot3" x="240.0" y="386.9"/>
<use href="#ot3" x="240.4" y="386.7"/>
<use href="#ot3" x="240.8" y="386.6"/>
<use href="#ot3" x="241.2" y="386.5"/>
<use href="#ot3" x="241.6" y="386.3"/>
<use href="#ot3" x="242.0" y="386.2"/>
<use href="#ot3" x="242.4" y="386.1"/>
<use href="#ot3" x="242.8" y="385.9"/>
<use href="#ot3" x="243.2" y="385.8"/>
<use href="#ot3" x="243.7" y="385.7"/>
<use href="#ot3" x="244.1" y="385.5"/>
<use href="#ot3" x="244.5" y="385.4"/>
<use href="#ot3" x="244.9" y="385.3"/>
<use href="#ot3" x="245.3" y="385.2"/>
<use href="#ot3" x="245.7" y="385.0"/>
<use href="#ot3" x="246.1" y="384.9"/>
<use href="#ot3" x="246.5" y="384.8"/>
<use href="#ot3" x="246.9" y="384.7"/>
<use href="#ot3" x="247.3" y="384.5"/>
<use href="#ot3" x="247.7" y="384.4"/>
<use href="#ot3" x="248.2" y="384.3"/>
<use href="#ot3" x="248.6" y="384.2"/>
<use href="#ot3" x="249.0" y="384.1"/>
<use href="#ot3" x="249.4" y="383.9"/>
<use href="#ot3" x="249.8" y="383.8"/>
<use href="#ot3" x="250.2" y="383.7"/>
<use href="#ot3" x="250.6" y="383.6"/>
<use href="#ot3" x="251.0" y="383.4"/>
<use href="#ot3" x="251.4" y="383.3"/>
<use href="#ot3" x="251.8" y="383.2"/>
<use href="#ot3" x="252.2" y="383.1"/>
<use href="#ot3" x="252.7" y="382.9"/>
<use href="#ot3" x="253.1" y="382.8"/>
<use href="#ot3" x="253.5" y="382.6"/>
<use href="#ot3" x="253.9" y="382.5"/>
<use href="#ot3" x="254.3" y="382.4"/>
<use href="#ot3" x="254.7" y="382.2"/>
<use href="#ot3" x="255.1" y="382.1"/>
<use href="#ot3" x="255.5" y="381.9"/>
<use href="#ot3" x="255.9" y="381.8"/>
<use href="#ot3" x="256.3" y="381.7"/>
<use href="#ot3" x="256.7" y="381.5"/>
<use href="#ot3" x="257.2" y="381.4"/>
<use href="#ot3" x="257.6" y="381.2"/>
<use href="#ot3" x="258.0" y="381.1"/>
<use href="#ot3" x="258.4" y="381.0"/>
<use href="#ot3" x="258.8" y="380.8"/>
<use href="#ot3" x="259.2" y="380.7"/>
<use href="#ot3" x="259.6" y="380.5"/>
<use href="#ot3" x="260.0" y="380.4"/>
<use href="#ot3" x="260.4" y="380.3"/>
<use href="#ot3" x="260.8" y="380.1"/>
<use href="#ot3" x="261.2" y="380.0"/>
<use href="#ot3" x="261.7" y="379.9"/>
<use href="#ot3" x="262.1" y="379.7"/>
<use href="#ot3" x="262.5" y="379.6"/>
<use href="#ot3" x="262.9" y="379.4"/>
<use href="#ot3" x="263.3" y="379.3"/>
<use href="#ot3" x="263.7" y="379.2"/>
<use href="#ot3" x="264.1" y="379.0"/>
<use href="#ot3" x="264.5" y="378.9"/>
<use href="#ot3" x="264.9" y="378.7"/>
<use href="#ot3" x="265.3" y="378.6"/>
<use href="#ot3" x="265.7" y="378.5"/>
<use href="#ot3" x="266.1" y="378.3"/>
<use href="#ot3" x="266.6" y="378.2"/>
<use href="#ot3" x="267.0" y="378.0"/>
<use href="#ot3" x="267.4" y="377.9"/>
<use href="#ot3" x="267.8" y="377.7"/>
<use href="#ot3" x="268.2" y="377.6"/>
<use href="#ot3" x="268.6" y="377.4"/>
<use href="#ot3" x="269.0" y="377.3"/>
<use href="#ot3" x="269.4" y="377.1"/>
<use href="#ot3" x="269.8" y="377.0"/>
<use href="#ot3" x="270.2" y="376.8"/>
<use href="#ot3" x="270.6" y="376.7"/>
<use href="#ot3" x="271.1" y="376.5"/>
<use href="#ot3" x="271.5" y="376.4"/>
<use href="#ot3" x="271.9" y="376.2"/>
<use href="#ot3" x="272.3" y="376.1"/>
<use href="#ot3" x="272.7" y="375.9"/>
<use href="#ot3" x="273.1" y="375.8"/>
<use href="#ot3" x="273.5" y="375.7"/>
<use href="#ot3" x="273.9" y="375.5"/>
<use href="#ot3" x="274.3" y="375.4"/>
<use href="#ot3" x="274.7" y="375.2"/>
<use href="#ot3" x="275.1" y="375.1"/>
<use href="#ot3" x="275.6" y="374.9"/>
<use href="#ot3" x="276.0" y="374.8"/>
<use href="#ot3" x="276.4" y="374.6"/>
<use href="#ot3" x="276.8" y="374.5"/>
<use href="#ot3" x="277.2" y="374.3"/>
<use href="#ot3" x="277.6" y="374.2"/>
<use href="#ot3" x="278.0" y="374.0"/>
<use href="#ot3" x="278.4" y="373.9"/>
<use href="#ot3" x="278.8" y="373.7"/>
<use href="#ot3" x="279.2" y="373.6"/>
<use href="#ot3" x="279.6" y="373.4"/>
<use href="#ot3" x="280.1" y="373.3"/>
<use href="#ot3" x="280.5" y="373.1"/>
<use href="#ot3" x="280.9" y="373.0"/>
<use href="#ot3" x="281.3" y="372.8"/>
<use href="#ot3" x="281.7" y="372.7"/>
<use href="#ot3" x="282.1" y="372.5"/>
<use href="#ot3" x="282.5" y="372.4"/>
<use href="#ot3" x="282.9" y="372.3"/>
<use href="#ot" x="283.3" y="372.1"/>
<use href="#ot" x="287.4" y="370.6"/>
<use href="#ot" x="291.5" y="369.2"/>
<use href="#ot" x="295.6" y="367.7"/>
<use href="#ot" x="299.7" y="366.2"/>
<use href="#ot" x="303.8" y="364.9"/>
<use href="#ot" x="307.9" y="363.6"/>
<use href="#ot" x="312.0" y="362.2"/>
<use href="#ot" x="316.0" y="360.9"/>
<use href="#ot" x="320.1" y="359.4"/>
<use href="#ot" x="324.2" y="357.9"/>
<use href="#ot" x="328.3" y="356.4"/>
<use href="#ot" x="332.4" y="354.8"/>
<use href="#ot" x="336.5" y="353.4"/>
<use href="#ot" x="340.6" y="351.9"/>
<use href="#ot" x="344.7" y="350.4"/>
<use href="#ot" x="348.8" y="349.0"/>
<use href="#ot" x="352.9" y="347.5"/>
<use href="#ot" x="356.9" y="346.1"/>
<use href="#ot" x="361.0" y="344.6"/>
<use href="#ot" x="365.1" y="343.2"/>
<use href="#ot" x="369.2" y="341.7"/>
<use href="#ot" x="373.3" y="340.3"/>
<use href="#ot" x="377.4" y="338.9"/>
<use href="#ot" x="381.5" y="337.8"/>
<use href="#ot" x="215.0" y="406.4"/>
<use href="#ot" x="214.0" y="413.4"/>
</g>
<g stroke="#000" stroke-width="1.3" fill="none">
<path d="M77.0,434.7 L77.0,189.1 L376,189.1"/>
<path d="M77.0,434.7 L376,434.7"/>
<path d="M77.0,415.20 h5.6"/>
<path d="M77.0,368.15 h5.6"/>
<path d="M77.0,321.10 h5.6"/>
<path d="M77.0,274.05 h5.6"/>
<path d="M77.0,227.00 h5.6"/>
<path d="M77.0,391.68 h3.6"/>
<path d="M77.0,344.62 h3.6"/>
<path d="M77.0,297.57 h3.6"/>
<path d="M77.0,250.53 h3.6"/>
<path d="M77.0,203.47 h3.6"/>
<path d="M118.50,434.7 v-5.6"/>
<path d="M159.40,434.7 v-5.6"/>
<path d="M200.30,434.7 v-5.6"/>
<path d="M241.20,434.7 v-5.6"/>
<path d="M282.10,434.7 v-5.6"/>
<path d="M323.00,434.7 v-5.6"/>
<path d="M363.90,434.7 v-5.6"/>
<path d="M98.05,434.7 v-3.6"/>
<path d="M138.95,434.7 v-3.6"/>
<path d="M179.85,434.7 v-3.6"/>
<path d="M220.75,434.7 v-3.6"/>
<path d="M261.65,434.7 v-3.6"/>
<path d="M302.55,434.7 v-3.6"/>
<path d="M343.45,434.7 v-3.6"/>
<path d="M384.35,434.7 v-3.6"/>
</g>
<g font-family="Liberation Sans, Arial, sans-serif" font-size="17.2" fill="#000" stroke="#000" stroke-width="0.2">
<text x="71.0" y="421.50" text-anchor="end">0.00</text>
<text x="71.0" y="374.45" text-anchor="end">0.25</text>
<text x="71.0" y="327.40" text-anchor="end">0.50</text>
<text x="71.0" y="280.35" text-anchor="end">0.75</text>
<text x="71.0" y="233.30" text-anchor="end">1.00</text>
<text x="77.00" y="455" text-anchor="middle">0</text>
<text x="117.90" y="455" text-anchor="middle">10</text>
<text x="158.80" y="455" text-anchor="middle">20</text>
<text x="199.70" y="455" text-anchor="middle">30</text>
<text x="240.60" y="455" text-anchor="middle">40</text>
<text x="281.50" y="455" text-anchor="middle">50</text>
<text x="322.40" y="455" text-anchor="middle">60</text>
<text x="363.30" y="455" text-anchor="middle">70</text>
<text x="242.4" y="477.2" text-anchor="middle"><tspan font-style="italic">T</tspan> (K)</text>
<text transform="translate(29.2,307) rotate(-90)" text-anchor="middle" font-size="17.8"><tspan font-size="15.5">ρ</tspan> (mΩ cm)</text>
</g>
<g font-family="Liberation Sans, Arial, sans-serif" font-size="14.6">
<path d="M307.4,379.5 H341" stroke="#000" stroke-width="1.1"/>
<use href="#osl" x="324.4" y="379.5"/>
<text x="345.2" y="384.9" fill="#000" stroke="#000" stroke-width="0.25"><tspan font-style="italic">Ln</tspan><tspan x="364.4">= Tb</tspan></text>
<path d="M307.4,397.4 H341" stroke="#f00" stroke-width="1.1"/>
<use href="#oc" x="324.4" y="397.4"/>
<text x="345.2" y="402.8" fill="#f00" stroke="#f00" stroke-width="0.25"><tspan font-style="italic">Ln</tspan><tspan x="364.4">= Dy</tspan></text>
<path d="M307.4,415.5 H341" stroke="#00f" stroke-width="1.1"/>
<use href="#ot" x="324.4" y="415.5"/>
<text x="345.2" y="420.9" fill="#00f" stroke="#00f" stroke-width="0.25"><tspan font-style="italic">Ln</tspan><tspan x="364.4">= Ho</tspan></text>
</g>
<text font-family="Liberation Sans, Arial, sans-serif" font-size="13.6" y="207.2" fill="#000" stroke="#000" stroke-width="0.2"><tspan x="297.6">Rb</tspan><tspan x="315.4" font-style="italic" letter-spacing="0.7">Ln</tspan><tspan x="332.0" font-size="8.6" dy="4">2</tspan><tspan x="337.4" dy="-4">Fe</tspan><tspan x="353.7" font-size="8.6" dy="4">4</tspan><tspan x="358.6" dy="-4">As</tspan><tspan x="376" font-size="8.6" dy="4">2</tspan><tspan x="381" dy="-4">O</tspan><tspan x="392" font-size="8.6" dy="4">2</tspan></text>
<rect x="129.3" y="195.2" width="135.2" height="108.10000000000002" fill="#fff" stroke="none"/>
<clipPath id="ic"><rect x="129.3" y="195.2" width="135.2" height="108.10000000000002"/></clipPath>
<g id="inset-data" clip-path="url(#ic)">
<use href="#fs" x="134.7" y="278.4"/>
<use href="#fs" x="136.6" y="278.4"/>
<use href="#fs" x="138.5" y="278.3"/>
<use href="#fs" x="140.4" y="278.3"/>
<use href="#fs" x="142.3" y="278.3"/>
<use href="#fs" x="144.2" y="278.3"/>
<use href="#fs" x="146.1" y="278.2"/>
<use href="#fs" x="148.0" y="278.2"/>
<use href="#fs" x="149.9" y="278.2"/>
<use href="#fs" x="151.8" y="278.2"/>
<use href="#fs" x="153.7" y="278.1"/>
<use href="#fs" x="155.6" y="278.1"/>
<use href="#fs" x="157.5" y="278.0"/>
<use href="#fs" x="159.4" y="278.0"/>
<use href="#fs" x="161.3" y="277.9"/>
<use href="#fs" x="163.2" y="277.8"/>
<use href="#fs" x="165.1" y="277.8"/>
<use href="#fs" x="167.0" y="277.7"/>
<use href="#fs" x="168.9" y="277.6"/>
<use href="#fs" x="170.8" y="277.5"/>
<use href="#fs" x="172.7" y="277.5"/>
<use href="#fs" x="174.6" y="277.4"/>
<use href="#fs" x="176.5" y="277.3"/>
<use href="#fs" x="178.4" y="277.2"/>
<use href="#fs" x="180.2" y="277.0"/>
<use href="#fs" x="182.1" y="276.8"/>
<use href="#fs" x="184.0" y="276.5"/>
<use href="#fs" x="185.9" y="276.3"/>
<use href="#fs" x="187.8" y="276.1"/>
<use href="#fs" x="189.7" y="275.7"/>
<use href="#fs" x="191.6" y="275.0"/>
<use href="#fs" x="193.5" y="274.4"/>
<use href="#fs" x="195.4" y="273.8"/>
<use href="#fs" x="197.3" y="273.0"/>
<use href="#fs" x="199.2" y="271.6"/>
<use href="#fs" x="201.1" y="270.2"/>
<use href="#fs" x="203.0" y="268.4"/>
<use href="#fs" x="204.9" y="265.5"/>
<use href="#fs" x="206.8" y="261.5"/>
<use href="#fs" x="208.7" y="256.6"/>
<use href="#fs" x="210.6" y="250.9"/>
<use href="#fs" x="212.5" y="244.8"/>
<use href="#fs" x="214.4" y="238.3"/>
<use href="#fs" x="216.3" y="231.6"/>
<use href="#fs" x="218.2" y="224.0"/>
<use href="#fs" x="220.1" y="216.2"/>
<use href="#fs" x="222.0" y="207.2"/>
<use href="#fs" x="223.9" y="206.3"/>
<use href="#fs" x="225.8" y="206.3"/>
<use href="#fs" x="227.7" y="206.3"/>
<use href="#fs" x="229.6" y="206.3"/>
<use href="#fs" x="231.5" y="206.3"/>
<use href="#fs" x="233.4" y="206.3"/>
<use href="#fs" x="235.3" y="206.3"/>
<use href="#fs" x="237.2" y="206.3"/>
<use href="#fs" x="239.1" y="206.3"/>
<use href="#fs" x="241.0" y="206.3"/>
<use href="#fs" x="242.8" y="206.3"/>
<use href="#fs" x="244.7" y="206.3"/>
<use href="#fs" x="246.6" y="206.3"/>
<use href="#fs" x="248.5" y="206.3"/>
<use href="#fs" x="250.4" y="206.3"/>
<use href="#fs" x="252.3" y="206.3"/>
<use href="#fs" x="254.2" y="206.3"/>
<use href="#fs" x="256.1" y="206.3"/>
<use href="#fs" x="258.0" y="206.3"/>
<use href="#fs" x="259.9" y="206.3"/>
<use href="#fs" x="261.8" y="206.3"/>
<use href="#fs" x="263.7" y="206.3"/>
<use href="#fs" x="265.6" y="206.3"/>
<use href="#fc" x="134.7" y="271.4"/>
<use href="#fc" x="135.7" y="271.3"/>
<use href="#fc" x="136.6" y="271.3"/>
<use href="#fc" x="137.6" y="271.2"/>
<use href="#fc" x="138.5" y="271.2"/>
<use href="#fc" x="139.5" y="271.1"/>
<use href="#fc" x="140.4" y="271.1"/>
<use href="#fc" x="141.4" y="271.0"/>
<use href="#fc" x="142.3" y="271.0"/>
<use href="#fc" x="143.3" y="270.9"/>
<use href="#fc" x="144.2" y="270.9"/>
<use href="#fc" x="145.2" y="270.8"/>
<use href="#fc" x="146.1" y="270.8"/>
<use href="#fc" x="147.1" y="270.7"/>
<use href="#fc" x="148.0" y="270.7"/>
<use href="#fc" x="148.9" y="270.6"/>
<use href="#fc" x="149.9" y="270.6"/>
<use href="#fc" x="150.8" y="270.5"/>
<use href="#fc" x="151.8" y="270.4"/>
<use href="#fc" x="152.7" y="270.3"/>
<use href="#fc" x="153.7" y="270.2"/>
<use href="#fc" x="154.6" y="270.1"/>
<use href="#fc" x="155.6" y="269.9"/>
<use href="#fc" x="156.5" y="269.8"/>
<use href="#fc" x="157.5" y="269.7"/>
<use href="#fc" x="158.4" y="269.6"/>
<use href="#fc" x="159.4" y="269.5"/>
<use href="#fc" x="160.3" y="269.3"/>
<use href="#fc" x="161.3" y="269.2"/>
<use href="#fc" x="162.2" y="269.1"/>
<use href="#fc" x="163.2" y="269.0"/>
<use href="#fc" x="164.1" y="268.9"/>
<use href="#fc" x="165.1" y="268.8"/>
<use href="#fc" x="166.0" y="268.6"/>
<use href="#fc" x="167.0" y="268.5"/>
<use href="#fc" x="167.9" y="268.3"/>
<use href="#fc" x="168.9" y="268.1"/>
<use href="#fc" x="169.8" y="267.8"/>
<use href="#fc" x="170.8" y="267.6"/>
<use href="#fc" x="171.7" y="267.4"/>
<use href="#fc" x="172.7" y="267.1"/>
<use href="#fc" x="173.6" y="266.9"/>
<use href="#fc" x="174.6" y="266.7"/>
<use href="#fc" x="175.5" y="266.4"/>
<use href="#fc" x="176.5" y="266.2"/>
<use href="#fc" x="177.4" y="266.0"/>
<use href="#fc" x="178.4" y="265.6"/>
<use href="#fc" x="179.3" y="265.2"/>
<use href="#fc" x="180.2" y="264.7"/>
<use href="#fc" x="181.2" y="264.2"/>
<use href="#fc" x="182.1" y="263.8"/>
<use href="#fc" x="183.1" y="263.3"/>
<use href="#fc" x="184.0" y="262.8"/>
<use href="#fc" x="185.0" y="262.3"/>
<use href="#fc" x="185.9" y="261.6"/>
<use href="#fc" x="186.9" y="260.9"/>
<use href="#fc" x="187.8" y="260.2"/>
<use href="#fc" x="188.8" y="259.5"/>
<use href="#fc" x="189.7" y="258.8"/>
<use href="#fc" x="190.7" y="258.0"/>
<use href="#fc" x="191.6" y="257.1"/>
<use href="#fc" x="192.6" y="256.2"/>
<use href="#fc" x="193.5" y="255.3"/>
<use href="#fc" x="194.5" y="254.4"/>
<use href="#fc" x="195.4" y="253.5"/>
<use href="#fc" x="196.4" y="252.0"/>
<use href="#fc" x="197.3" y="250.2"/>
<use href="#fc" x="198.3" y="248.5"/>
<use href="#fc" x="199.2" y="246.0"/>
<use href="#fc" x="200.2" y="243.4"/>
<use href="#fc" x="201.1" y="240.8"/>
<use href="#fc" x="202.1" y="238.4"/>
<use href="#fc" x="203.0" y="236.0"/>
<use href="#fc" x="204.0" y="233.7"/>
<use href="#fc" x="204.9" y="231.9"/>
<use href="#fc" x="205.9" y="230.2"/>
<use href="#fc" x="206.8" y="228.5"/>
<use href="#fc" x="207.8" y="226.8"/>
<use href="#fc" x="208.7" y="225.5"/>
<use href="#fc" x="209.7" y="224.2"/>
<use href="#fc" x="210.6" y="223.0"/>
<use href="#fc" x="211.5" y="221.7"/>
<use href="#fc" x="212.5" y="220.5"/>
<use href="#fc" x="213.4" y="219.4"/>
<use href="#fc" x="214.4" y="218.3"/>
<use href="#fc" x="215.3" y="217.2"/>
<use href="#fc" x="216.3" y="216.0"/>
<use href="#fc" x="217.2" y="214.6"/>
<use href="#fc" x="218.2" y="213.2"/>
<use href="#fc" x="219.1" y="211.6"/>
<use href="#fc" x="220.1" y="209.8"/>
<use href="#fc" x="221.0" y="208.2"/>
<use href="#fc" x="222.0" y="207.6"/>
<use href="#fc" x="222.9" y="207.6"/>
<use href="#fc" x="223.9" y="207.6"/>
<use href="#fc" x="224.8" y="207.6"/>
<use href="#fc" x="225.8" y="207.6"/>
<use href="#fc" x="226.7" y="207.6"/>
<use href="#fc" x="227.7" y="207.6"/>
<use href="#fc" x="228.6" y="207.6"/>
<use href="#fc" x="229.6" y="207.6"/>
<use href="#fc" x="230.5" y="207.6"/>
<use href="#fc" x="231.5" y="207.6"/>
<use href="#fc" x="232.4" y="207.6"/>
<use href="#fc" x="233.4" y="207.6"/>
<use href="#fc" x="234.3" y="207.6"/>
<use href="#fc" x="235.3" y="207.6"/>
<use href="#fc" x="236.2" y="207.6"/>
<use href="#fc" x="237.2" y="207.6"/>
<use href="#fc" x="238.1" y="207.6"/>
<use href="#fc" x="239.1" y="207.6"/>
<use href="#fc" x="240.0" y="207.6"/>
<use href="#fc" x="241.0" y="207.6"/>
<use href="#fc" x="241.9" y="207.6"/>
<use href="#fc" x="242.8" y="207.6"/>
<use href="#fc" x="243.8" y="207.6"/>
<use href="#fc" x="244.7" y="207.6"/>
<use href="#fc" x="245.7" y="207.6"/>
<use href="#fc" x="246.6" y="207.6"/>
<use href="#fc" x="247.6" y="207.6"/>
<use href="#fc" x="248.5" y="207.6"/>
<use href="#fc" x="249.5" y="207.6"/>
<use href="#fc" x="250.4" y="207.6"/>
<use href="#fc" x="251.4" y="207.6"/>
<use href="#fc" x="252.3" y="207.6"/>
<use href="#fc" x="253.3" y="207.6"/>
<use href="#fc" x="254.2" y="207.6"/>
<use href="#fc" x="255.2" y="207.6"/>
<use href="#fc" x="256.1" y="207.6"/>
<use href="#fc" x="257.1" y="207.6"/>
<use href="#fc" x="258.0" y="207.6"/>
<use href="#fc" x="259.0" y="207.6"/>
<use href="#fc" x="259.9" y="207.6"/>
<use href="#fc" x="260.9" y="207.6"/>
<use href="#fc" x="261.8" y="207.6"/>
<use href="#fc" x="262.8" y="207.6"/>
<use href="#fc" x="263.7" y="207.6"/>
<use href="#fc" x="264.7" y="207.6"/>
<use href="#fc" x="265.6" y="207.6"/>
<use href="#ft" x="134.7" y="267.7"/>
<use href="#ft" x="135.8" y="268.1"/>
<use href="#ft" x="136.9" y="267.8"/>
<use href="#ft" x="138.0" y="268.1"/>
<use href="#ft" x="139.1" y="268.0"/>
<use href="#ft" x="140.1" y="267.3"/>
<use href="#ft" x="141.2" y="267.2"/>
<use href="#ft" x="142.3" y="268.2"/>
<use href="#ft" x="143.4" y="267.5"/>
<use href="#ft" x="144.5" y="267.4"/>
<use href="#ft" x="145.6" y="268.3"/>
<use href="#ft" x="146.6" y="267.6"/>
<use href="#ft" x="147.7" y="268.0"/>
<use href="#ft" x="148.8" y="267.5"/>
<use href="#ft" x="149.9" y="267.7"/>
<use href="#ft" x="151.0" y="267.1"/>
<use href="#ft" x="152.1" y="267.6"/>
<use href="#ft" x="153.1" y="267.8"/>
<use href="#ft" x="154.2" y="267.3"/>
<use href="#ft" x="155.3" y="267.5"/>
<use href="#ft" x="156.4" y="267.4"/>
<use href="#ft" x="157.5" y="266.6"/>
<use href="#ft" x="158.6" y="267.4"/>
<use href="#ft" x="159.7" y="267.1"/>
<use href="#ft" x="160.7" y="266.7"/>
<use href="#ft" x="161.8" y="266.3"/>
<use href="#ft" x="162.9" y="267.3"/>
<use href="#ft" x="164.0" y="266.7"/>
<use href="#ft" x="165.1" y="267.0"/>
<use href="#ft" x="166.2" y="267.1"/>
<use href="#ft" x="167.2" y="266.9"/>
<use href="#ft" x="168.3" y="267.1"/>
<use href="#ft" x="169.4" y="266.4"/>
<use href="#ft" x="170.5" y="266.7"/>
<use href="#ft" x="171.6" y="266.2"/>
<use href="#ft" x="172.7" y="266.6"/>
<use href="#ft" x="173.7" y="266.4"/>
<use href="#ft" x="174.8" y="265.3"/>
<use href="#ft" x="175.9" y="265.2"/>
<use href="#ft" x="177.0" y="265.2"/>
<use href="#ft" x="178.1" y="265.9"/>
<use href="#ft" x="179.2" y="265.2"/>
<use href="#ft" x="180.2" y="265.2"/>
<use href="#ft" x="181.3" y="264.7"/>
<use href="#ft" x="182.4" y="264.8"/>
<use href="#ft" x="183.5" y="264.5"/>
<use href="#ft" x="184.6" y="264.3"/>
<use href="#ft" x="185.7" y="264.4"/>
<use href="#ft" x="186.8" y="264.2"/>
<use href="#ft" x="187.8" y="264.4"/>
<use href="#ft" x="188.9" y="263.9"/>
<use href="#ft" x="190.0" y="263.9"/>
<use href="#ft" x="191.1" y="263.6"/>
<use href="#ft" x="192.2" y="263.5"/>
<use href="#ft" x="193.3" y="262.7"/>
<use href="#ft" x="194.3" y="261.8"/>
<use href="#ft" x="195.4" y="262.2"/>
<use href="#ft" x="196.5" y="262.0"/>
<use href="#ft" x="197.6" y="261.6"/>
<use href="#ft" x="198.7" y="260.8"/>
<use href="#ft" x="199.8" y="259.9"/>
<use href="#ft" x="200.8" y="258.2"/>
<use href="#ft" x="201.9" y="257.9"/>
<use href="#ft" x="203.0" y="256.0"/>
<use href="#ft" x="204.1" y="253.5"/>
<use href="#ft" x="205.2" y="251.1"/>
<use href="#ft" x="206.3" y="249.0"/>
<use href="#ft" x="207.3" y="246.1"/>
<use href="#ft" x="208.4" y="241.7"/>
<use href="#ft" x="209.5" y="239.3"/>
<use href="#ft" x="210.6" y="235.8"/>
<use href="#ft" x="211.7" y="232.3"/>
<use href="#ft" x="212.8" y="229.7"/>
<use href="#ft" x="213.9" y="227.6"/>
<use href="#ft" x="214.9" y="224.8"/>
<use href="#ft" x="216.0" y="220.5"/>
<use href="#ft" x="217.1" y="217.6"/>
<use href="#ft" x="218.2" y="213.1"/>
<use href="#ft" x="219.3" y="210.1"/>
<use href="#ft" x="220.4" y="206.4"/>
<use href="#ft" x="221.4" y="206.4"/>
<use href="#ft" x="222.5" y="206.5"/>
<use href="#ft" x="223.6" y="206.0"/>
<use href="#ft" x="224.7" y="206.6"/>
<use href="#ft" x="225.8" y="205.7"/>
<use href="#ft" x="226.9" y="205.5"/>
<use href="#ft" x="227.9" y="206.1"/>
<use href="#ft" x="229.0" y="205.4"/>
<use href="#ft" x="230.1" y="205.6"/>
<use href="#ft" x="231.2" y="205.8"/>
<use href="#ft" x="232.3" y="206.1"/>
<use href="#ft" x="233.4" y="205.5"/>
<use href="#ft" x="234.4" y="205.4"/>
<use href="#ft" x="235.5" y="206.4"/>
<use href="#ft" x="236.6" y="205.7"/>
<use href="#ft" x="237.7" y="206.5"/>
<use href="#ft" x="238.8" y="206.4"/>
<use href="#ft" x="239.9" y="205.8"/>
<use href="#ft" x="241.0" y="205.9"/>
<use href="#ft" x="242.0" y="206.0"/>
<use href="#ft" x="243.1" y="206.1"/>
<use href="#ft" x="244.2" y="206.1"/>
<use href="#ft" x="245.3" y="206.0"/>
<use href="#ft" x="246.4" y="206.1"/>
<use href="#ft" x="247.5" y="206.5"/>
<use href="#ft" x="248.5" y="206.0"/>
<use href="#ft" x="249.6" y="205.9"/>
<use href="#ft" x="250.7" y="206.2"/>
<use href="#ft" x="251.8" y="205.6"/>
<use href="#ft" x="252.9" y="205.7"/>
<use href="#ft" x="254.0" y="206.5"/>
<use href="#ft" x="255.0" y="206.0"/>
<use href="#ft" x="256.1" y="206.0"/>
<use href="#ft" x="257.2" y="205.4"/>
<use href="#ft" x="258.3" y="205.9"/>
<use href="#ft" x="259.4" y="206.1"/>
<use href="#ft" x="260.5" y="205.4"/>
<use href="#ft" x="261.5" y="206.1"/>
<use href="#ft" x="262.6" y="206.1"/>
<use href="#ft" x="263.7" y="205.4"/>
<use href="#ft" x="264.8" y="206.1"/>
</g>
<g stroke="#000" stroke-width="1.2" fill="none">
<rect x="129.3" y="195.2" width="135.2" height="108.10000000000002"/>
<path d="M129.3,209.00 h4.3"/>
<path d="M129.3,242.80 h4.3"/>
<path d="M129.3,276.60 h4.3"/>
<path d="M156.40,303.3 v-4.3"/>
<path d="M183.50,303.3 v-4.3"/>
<path d="M210.60,303.3 v-4.3"/>
<path d="M237.70,303.3 v-4.3"/>
</g>
<g font-family="Liberation Sans, Arial, sans-serif" font-size="14.4" fill="#000" stroke="#000" stroke-width="0.2">
<text x="125.4" y="214.00" text-anchor="end">0.0</text>
<text x="125.4" y="247.80" text-anchor="end">-0.5</text>
<text x="125.4" y="281.60" text-anchor="end">-1.0</text>
<text x="129.30" y="318.8" text-anchor="middle">0</text>
<text x="156.40" y="318.8" text-anchor="middle">10</text>
<text x="183.50" y="318.8" text-anchor="middle">20</text>
<text x="210.60" y="318.8" text-anchor="middle">30</text>
<text x="237.70" y="318.8" text-anchor="middle">40</text>
<text x="264.80" y="318.8" text-anchor="middle">50</text>
<text x="197.4" y="338.2" text-anchor="middle" font-size="14.2"><tspan font-style="italic">T</tspan> (K)</text>
<text x="261.8" y="296.3" text-anchor="end" font-size="12.3">Zero-field cooling</text>
<text transform="translate(95,244.6) rotate(-90)" text-anchor="middle" font-size="14" font-style="italic">4πχ</text>
</g>
<g font-family="Liberation Sans, Arial, sans-serif" font-size="10.8">
<path d="M133.4,208.5 H157" stroke="#000" stroke-width="1.1"/>
<use href="#fs" x="145.4" y="208.5"/>
<text x="161.2" y="212.5" fill="#000" stroke="#000" stroke-width="0.25"><tspan font-style="italic">Ln</tspan> = Tb</text>
<path d="M133.4,221.7 H157" stroke="#f00" stroke-width="1.1"/>
<use href="#fc" x="145.4" y="221.7"/>
<text x="161.2" y="225.7" fill="#f00" stroke="#f00" stroke-width="0.25"><tspan font-style="italic">Ln</tspan> = Dy</text>
<path d="M133.4,235.0 H157" stroke="#00f" stroke-width="1.1"/>
<use href="#ft" x="145.4" y="235.0"/>
<text x="161.2" y="239.0" fill="#00f" stroke="#00f" stroke-width="0.25"><tspan font-style="italic">Ln</tspan> = Ho</text>
</g>
</svg>
</body></html>
